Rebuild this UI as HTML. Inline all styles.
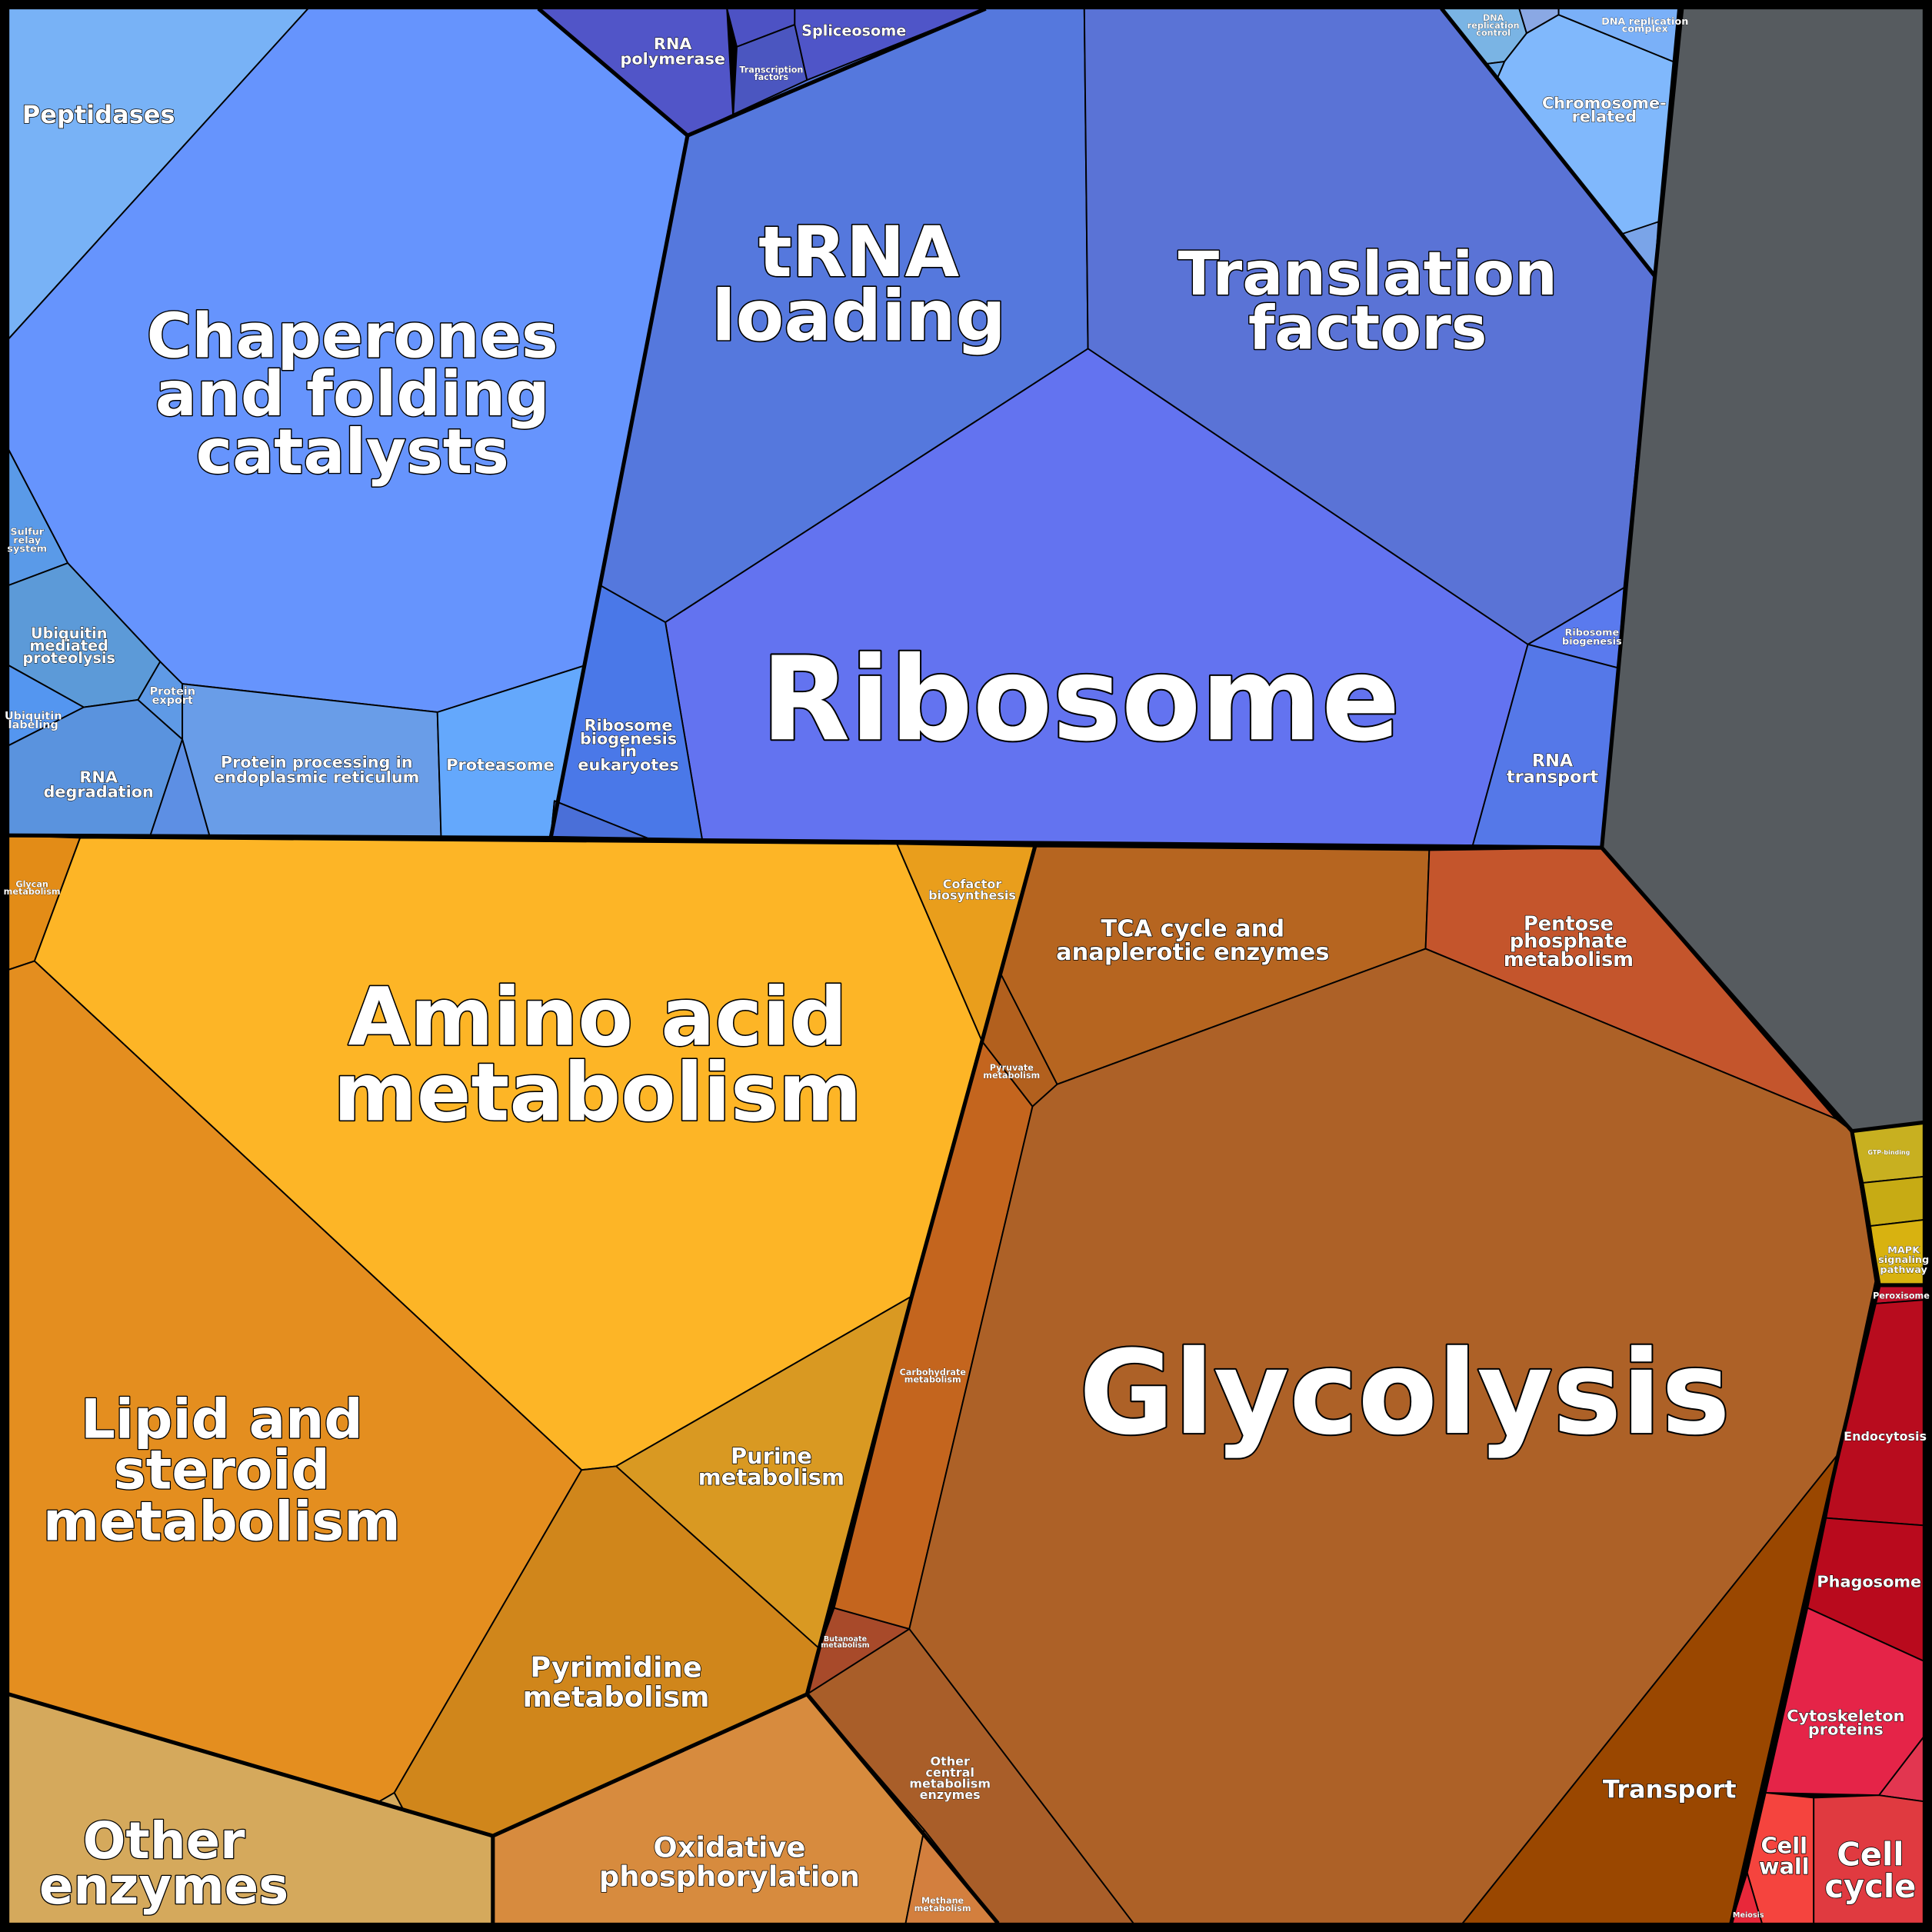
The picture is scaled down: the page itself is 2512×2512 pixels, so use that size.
<!DOCTYPE html>
<html><head><meta charset="utf-8"><style>
html,body{margin:0;padding:0;background:#000}
svg{display:block}
text{font-family:"DejaVu Sans","Liberation Sans",sans-serif;font-weight:bold;fill:#fff;stroke:#000;paint-order:stroke;text-anchor:middle;stroke-linejoin:round}
.c{stroke:#000;stroke-width:1.2;stroke-linejoin:round}
.g{fill:none;stroke:#000;stroke-width:3.2;stroke-linejoin:round}
</style></head><body>
<svg width="2512" height="2512" viewBox="0 0 1568 1568">
<rect x="0" y="0" width="1568" height="1568" fill="#000"/>
<polygon class="c" fill="#78b2f6" points="7,7 250,7 7,275"/>
<polygon class="c" fill="#6694fd" points="250,7 437,7 558,110 475,540 355,578 148,555 130,537 55,457 7,365 7,275"/>
<polygon class="c" fill="#5a9ae8" points="7,365 55,457 7,475"/>
<polygon class="c" fill="#5c9ad8" points="7,475 55,457 130,537 112,568 68,574 7,540"/>
<polygon class="c" fill="#5496f0" points="7,540 68,574 7,605"/>
<polygon class="c" fill="#5a93de" points="68,574 112,568 148,600 122,678 7,678 7,605"/>
<polygon class="c" fill="#5f9ae6" points="112,568 130,537 148,555 148,600"/>
<polygon class="c" fill="#5d8fe4" points="148,600 122,678 170,678"/>
<polygon class="c" fill="#699de8" points="148,555 355,578 358,680 170,678 148,600"/>
<polygon class="c" fill="#64a8fc" points="355,578 475,540 447,680 358,680"/>
<polygon class="c" fill="#5155c8" points="437,7 590,7 595,95 558,110"/>
<polygon class="c" fill="#4d52c4" points="590,7 645,7 645,20 598,38"/>
<polygon class="c" fill="#4b56c0" points="598,38 645,20 655,65 595,95"/>
<polygon class="c" fill="#4f55c8" points="645,7 800,7 655,65 645,20"/>
<polygon class="c" fill="#5578dd" points="558,110 655,65 800,7 880,7 883,283 540,505 487,475"/>
<polygon class="c" fill="#5a73d6" points="880,7 1170,7 1343,225 1318,477 1240,523 883,283"/>
<polygon class="c" fill="#6373f0" points="883,283 1240,523 1195,687 570,682 540,505"/>
<polygon class="c" fill="#4a78e8" points="487,475 540,505 570,682 530,682 450,650 447,680"/>
<polygon class="c" fill="#4a6fd8" points="450,650 530,682 447,680"/>
<polygon class="c" fill="#5a7aee" points="1240,523 1318,477 1313,542"/>
<polygon class="c" fill="#5578e8" points="1240,523 1313,542 1300,688 1195,687"/>
<polygon class="c" fill="#7ab4e4" points="1169,7 1233,7 1239,27 1221,50 1205,52"/>
<polygon class="c" fill="#8aa8e4" points="1233,7 1265,7 1265,12 1239,27"/>
<polygon class="c" fill="#80b8fc" points="1239,27 1265,12 1358,50 1346,180 1325,188 1316,190 1215,64 1221,50"/>
<polygon class="c" fill="#7ab0f8" points="1265,7 1362,7 1358,50 1265,12"/>
<polygon class="c" fill="#7aa4e8" points="1316,190 1346,180 1343,224"/>
<polygon class="c" fill="#6aa8e8" points="1205,52 1221,50 1215,64"/>
<polygon class="c" fill="#565b5f" points="1365,7 1561,7 1561,911 1503,918 1300,688 1343,225"/>
<polygon class="c" fill="#e38c17" points="7,678 65,680 28,780 7,787"/>
<polygon class="c" fill="#fdb526" points="65,680 728,685 797,845 740,1052 500,1190 472,1193 28,780"/>
<polygon class="c" fill="#e99e1c" points="728,685 840,687 812,790 797,845"/>
<polygon class="c" fill="#e48e1f" points="7,787 28,780 472,1193 320,1455 308,1462 7,1375"/>
<polygon class="c" fill="#d99922" points="500,1190 740,1052 665,1338"/>
<polygon class="c" fill="#d0861b" points="472,1193 500,1190 665,1338 655,1375 400,1490 328,1470 320,1455"/>
<polygon class="c" fill="#d5a95c" points="7,1375 308,1462 320,1455 328,1470 400,1490 400,1561 7,1561"/>
<polygon class="c" fill="#d78b3e" points="400,1490 655,1375 750,1485 735,1561 400,1561"/>
<polygon class="c" fill="#d37f3e" points="750,1485 810,1561 735,1561"/>
<polygon class="c" fill="#a95e29" points="655,1375 738,1322 920,1561 810,1561 750,1485"/>
<polygon class="c" fill="#a84a2a" points="677,1305 738,1322 655,1375 665,1338"/>
<polygon class="c" fill="#c4651e" points="797,845 838,898 738,1322 677,1305 740,1052"/>
<polygon class="c" fill="#b2601e" points="812,790 858,880 838,898 797,845"/>
<polygon class="c" fill="#b66520" points="840,687 1160,690 1157,770 858,880 812,790"/>
<polygon class="c" fill="#c4552c" points="1160,690 1300,688 1490,908 1157,770"/>
<polygon class="c" fill="#ad6127" points="858,880 1157,770 1490,908 1503,918 1522,1040 1492,1180 1187,1561 920,1561 738,1322 838,898"/>
<polygon class="c" fill="#9a4700" points="1492,1180 1405,1561 1187,1561"/>
<polygon class="c" fill="#c8b020" points="1503,918 1561,911 1561,955 1512,960"/>
<polygon class="c" fill="#c7ab14" points="1512,960 1561,955 1561,990 1518,995"/>
<polygon class="c" fill="#d8b210" points="1518,995 1561,990 1561,1043 1525,1043"/>
<polygon class="c" fill="#c0102a" points="1525,1043 1561,1043 1561,1055 1522,1058"/>
<polygon class="c" fill="#b80c1e" points="1522,1058 1561,1055 1561,1238 1482,1232 1492,1180"/>
<polygon class="c" fill="#b90a1d" points="1482,1232 1561,1238 1561,1348 1467,1305"/>
<polygon class="c" fill="#e52448" points="1467,1305 1561,1348 1561,1410 1525,1457 1433,1455"/>
<polygon class="c" fill="#e23650" points="1525,1457 1561,1410 1561,1462"/>
<polygon class="c" fill="#f5443e" points="1433,1455 1472,1459 1472,1561 1430,1561 1418,1520"/>
<polygon class="c" fill="#e8283a" points="1418,1520 1430,1561 1405,1561"/>
<polygon class="c" fill="#e03a40" points="1472,1459 1525,1457 1561,1462 1561,1561 1472,1561"/>
<polyline class="g" points="7,678 447,680 570,682 1195,687 1300,688 1343,225 1365,7"/>
<polyline class="g" points="1300,688 1503,918 1561,911"/>
<polyline class="g" points="1503,918 1525,1043 1561,1043"/>
<polyline class="g" points="1525,1043 1492,1180 1405,1561"/>
<polyline class="g" points="437,7 558,110 800,7"/>
<polyline class="g" points="558,110 487,475 447,680"/>
<polyline class="g" points="1170,7 1316,190 1343,224"/>
<polyline class="g" points="655,1375 740,1052 797,845 840,687"/>
<polyline class="g" points="400,1490 400,1561"/>
<polyline class="g" points="7,1375 400,1490 655,1375 810,1561"/>
<rect x="3.5" y="3.5" width="1561" height="1561" fill="none" stroke="#000" stroke-width="7"/>
<g>
<text x="877" y="600" font-size="94" stroke-width="2.5">Ribosome</text>
<text x="1140" y="1163" font-size="94" stroke-width="2.5">Glycolysis</text>
<text font-size="50" stroke-width="1.8"><tspan x="286" y="290">Chaperones</tspan><tspan x="286" y="337">and folding</tspan><tspan x="286" y="384">catalysts</tspan></text>
<text font-size="57" stroke-width="2"><tspan x="697" y="224">tRNA</tspan><tspan x="697" y="276">loading</tspan></text>
<text font-size="49" stroke-width="1.8"><tspan x="1110" y="239">Translation</tspan><tspan x="1110" y="283">factors</tspan></text>
<text font-size="65" stroke-width="2"><tspan x="485" y="848">Amino acid</tspan><tspan x="485" y="909">metabolism</tspan></text>
<text font-size="44" stroke-width="1.6"><tspan x="180" y="1167">Lipid and</tspan><tspan x="180" y="1208">steroid</tspan><tspan x="180" y="1250">metabolism</tspan></text>
<text font-size="41" stroke-width="1.6"><tspan x="133" y="1508">Other</tspan><tspan x="133" y="1545">enzymes</tspan></text>
<text x="80" y="100" font-size="20" stroke-width="1">Peptidases</text>
<text font-size="23" stroke-width="1"><tspan x="500" y="1361">Pyrimidine</tspan><tspan x="500" y="1385">metabolism</tspan></text>
<text font-size="18" stroke-width="1"><tspan x="626" y="1188">Purine</tspan><tspan x="626" y="1205">metabolism</tspan></text>
<text font-size="23" stroke-width="1"><tspan x="592" y="1507">Oxidative</tspan><tspan x="592" y="1531">phosphorylation</tspan></text>
<text font-size="19" stroke-width="1"><tspan x="968" y="760">TCA cycle and</tspan><tspan x="968" y="779">anaplerotic enzymes</tspan></text>
<text font-size="16" stroke-width="0.8"><tspan x="1273" y="755">Pentose</tspan><tspan x="1273" y="769">phosphate</tspan><tspan x="1273" y="784">metabolism</tspan></text>
<text x="1355" y="1459" font-size="20" stroke-width="1">Transport</text>
<text font-size="18" stroke-width="1"><tspan x="1448" y="1504">Cell</tspan><tspan x="1448" y="1521">wall</tspan></text>
<text font-size="26" stroke-width="1"><tspan x="1518" y="1514">Cell</tspan><tspan x="1518" y="1540">cycle</tspan></text>
<text font-size="13" stroke-width="0.7"><tspan x="1498" y="1397">Cytoskeleton</tspan><tspan x="1498" y="1408">proteins</tspan></text>
<text x="1517" y="1288" font-size="13" stroke-width="0.7">Phagosome</text>
<text x="1530" y="1169" font-size="10" stroke-width="0.5">Endocytosis</text>
<text x="1543" y="1054" font-size="7" stroke-width="0.3">Peroxisome</text>
<text font-size="8" stroke-width="0.4"><tspan x="1545" y="1017">MAPK</tspan><tspan x="1545" y="1025">signaling</tspan><tspan x="1545" y="1033">pathway</tspan></text>
<text x="1533" y="937" font-size="5" stroke-width="0.2">GTP-binding</text>
<text font-size="14" stroke-width="0.7"><tspan x="1260" y="622">RNA</tspan><tspan x="1260" y="635">transport</tspan></text>
<text font-size="8" stroke-width="0.4"><tspan x="1292" y="516">Ribosome</tspan><tspan x="1292" y="523">biogenesis</tspan></text>
<text font-size="13" stroke-width="0.7"><tspan x="510" y="593">Ribosome</tspan><tspan x="510" y="604">biogenesis</tspan><tspan x="510" y="614">in</tspan><tspan x="510" y="625">eukaryotes</tspan></text>
<text x="406" y="625" font-size="13" stroke-width="0.7">Proteasome</text>
<text font-size="13" stroke-width="0.7"><tspan x="257" y="623">Protein processing in</tspan><tspan x="257" y="635">endoplasmic reticulum</tspan></text>
<text font-size="13" stroke-width="0.7"><tspan x="80" y="635">RNA</tspan><tspan x="80" y="647">degradation</tspan></text>
<text font-size="12" stroke-width="0.6"><tspan x="56" y="518">Ubiquitin</tspan><tspan x="56" y="528">mediated</tspan><tspan x="56" y="538">proteolysis</tspan></text>
<text font-size="9" stroke-width="0.4"><tspan x="27" y="584">Ubiquitin</tspan><tspan x="27" y="591">labeling</tspan></text>
<text font-size="9" stroke-width="0.4"><tspan x="140" y="564">Protein</tspan><tspan x="140" y="571">export</tspan></text>
<text font-size="8" stroke-width="0.4"><tspan x="22" y="434">Sulfur</tspan><tspan x="22" y="441">relay</tspan><tspan x="22" y="448">system</tspan></text>
<text font-size="12" stroke-width="0.6"><tspan x="693" y="29">Spliceosome</tspan></text>
<text font-size="13" stroke-width="0.6"><tspan x="546" y="40">RNA</tspan><tspan x="546" y="52">polymerase</tspan></text>
<text font-size="7" stroke-width="0.3"><tspan x="626" y="59">Transcription</tspan><tspan x="626" y="65">factors</tspan></text>
<text font-size="13" stroke-width="0.6"><tspan x="1302" y="88">Chromosome-</tspan><tspan x="1302" y="99">related</tspan></text>
<text font-size="8" stroke-width="0.3"><tspan x="1335" y="20">DNA replication</tspan><tspan x="1335" y="26">complex</tspan></text>
<text font-size="7" stroke-width="0.3"><tspan x="1212" y="17">DNA</tspan><tspan x="1212" y="23">replication</tspan><tspan x="1212" y="29">control</tspan></text>
<text font-size="10" stroke-width="0.5"><tspan x="789" y="721">Cofactor</tspan><tspan x="789" y="730">biosynthesis</tspan></text>
<text font-size="7" stroke-width="0.3"><tspan x="26" y="720">Glycan</tspan><tspan x="26" y="726">metabolism</tspan></text>
<text font-size="7" stroke-width="0.3"><tspan x="757" y="1116">Carbohydrate</tspan><tspan x="757" y="1122">metabolism</tspan></text>
<text font-size="7" stroke-width="0.3"><tspan x="821" y="869">Pyruvate</tspan><tspan x="821" y="875">metabolism</tspan></text>
<text font-size="10" stroke-width="0.4"><tspan x="771" y="1433">Other</tspan><tspan x="771" y="1442">central</tspan><tspan x="771" y="1451">metabolism</tspan><tspan x="771" y="1460">enzymes</tspan></text>
<text font-size="6" stroke-width="0.3"><tspan x="686" y="1332">Butanoate</tspan><tspan x="686" y="1337">metabolism</tspan></text>
<text font-size="7" stroke-width="0.3"><tspan x="765" y="1545">Methane</tspan><tspan x="765" y="1551">metabolism</tspan></text>
<text x="1419" y="1556" font-size="6" stroke-width="0.3">Meiosis</text>
</g>
</svg>
</body></html>
